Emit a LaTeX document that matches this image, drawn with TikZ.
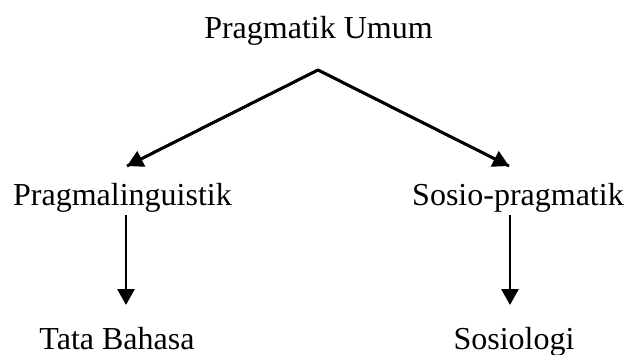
\documentclass[tikz,border=0pt]{standalone}
\usepackage{fontspec}
\setmainfont{Liberation Serif}
\usetikzlibrary{arrows.meta}
\begin{document}
\begin{tikzpicture}[x=1pt,y=-1pt,
  lbl/.style={anchor=base,inner sep=0pt,font=\fontsize{32}{38}\selectfont},
  conn/.style={line width=2.8pt,-{Triangle[length=16pt,width=17pt]}}]
\useasboundingbox (0,0) rectangle (627,354);
\node[lbl] (top) at (318.5,38) {Pragmatik Umum};
\node[lbl] (pl) at (122.5,205) {Pragmalinguistik};
\node[lbl] (sp) at (518,205) {Sosio-pragmatik};
\node[lbl] (tb) at (117,349) {Tata Bahasa};
\node[lbl] (so) at (514,349) {Sosiologi};
\coordinate (apex) at (318,70);
\coordinate (tl) at (127,166);
\coordinate (tr) at (509,166);
\coordinate (ls) at (126,215);
\coordinate (le) at (126,305);
\coordinate (rs) at (510,215);
\coordinate (re) at (510,305);
\draw[line width=2.8pt,line join=miter] (tl) -- (apex) -- (tr);
\draw[conn] (apex) -- (tl);
\draw[conn] (apex) -- (tr);
\draw[conn] (ls) -- (le);
\draw[conn] (rs) -- (re);
\end{tikzpicture}
\end{document}
